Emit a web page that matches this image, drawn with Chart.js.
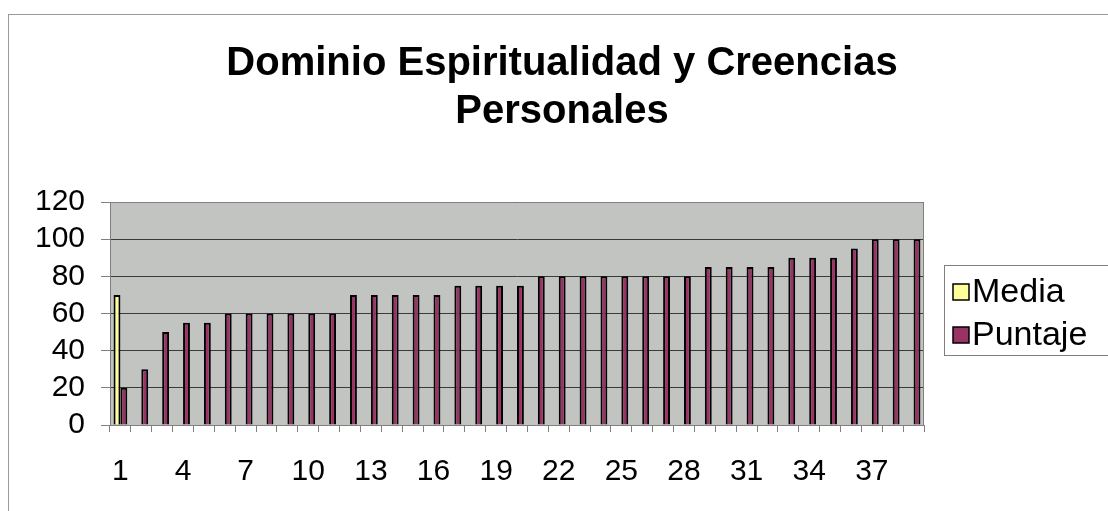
<!DOCTYPE html>
<html lang="es">
<head>
    <meta charset="UTF-8">
    <title>Dominio Espiritualidad y Creencias Personales</title>
    <script src="https://cdn.jsdelivr.net/npm/chart.js"></script>
    <style>
        body { margin: 0; background: #fff; }
    </style>
</head>
<body>
<canvas id="chart" width="1108" height="511"></canvas>

<script>
    const titleLines = ['Dominio Espiritualidad y Creencias', 'Personales'];

    const categories = ['1', '2', '3', '4', '5', '6', '7', '8', '9', '10',
        '11', '12', '13', '14', '15', '16', '17', '18', '19', '20',
        '21', '22', '23', '24', '25', '26', '27', '28', '29', '30',
        '31', '32', '33', '34', '35', '36', '37', '38', '39'];

    // only the first category carries the mean
    const media = [70, null, null, null, null, null, null, null, null, null,
        null, null, null, null, null, null, null, null, null, null,
        null, null, null, null, null, null, null, null, null, null,
        null, null, null, null, null, null, null, null, null];

    const puntaje = [20, 30, 50, 55, 55, 60, 60, 60, 60, 60,
        60, 70, 70, 70, 70, 70, 75, 75, 75, 75,
        80, 80, 80, 80, 80, 80, 80, 80, 85, 85,
        85, 85, 90, 90, 90, 95, 100, 100, 100];

    const shownLabels = ['1', '4', '7', '10', '13', '16', '19', '22', '25', '28', '31', '34', '37'];

    const FONT = "'Liberation Sans', Arial, sans-serif";

    // grey plot area, outer frame, title and boxed legend
    const frame = {
        id: 'frame',
        beforeDraw(chart) {
            const {ctx, chartArea: a} = chart;
            ctx.save();
            ctx.fillStyle = '#c2c4c2';
            ctx.fillRect(a.left, a.top, a.right - a.left, a.bottom - a.top);
            ctx.restore();
        },
        beforeDatasetsDraw(chart) {
            const {ctx, chartArea: a} = chart;
            ctx.save();
            ctx.strokeStyle = '#808080';
            ctx.lineWidth = 1;
            ctx.beginPath();
            ctx.moveTo(a.left, a.top + 0.5);
            ctx.lineTo(a.right - 0.5, a.top + 0.5);
            ctx.lineTo(a.right - 0.5, a.bottom);
            ctx.stroke();
            ctx.restore();
        },
        afterDraw(chart) {
            const ctx = chart.ctx;
            ctx.save();
            ctx.strokeStyle = '#9a9a9a';
            ctx.lineWidth = 1;
            ctx.strokeRect(8.5, 14.5, 1200, 600);

            ctx.fillStyle = '#000';
            ctx.textAlign = 'center';
            ctx.textBaseline = 'middle';
            ctx.font = 'bold 40px ' + FONT;
            ctx.fillText(titleLines[0], 562, 64);
            ctx.fillText(titleLines[1], 562, 112);

            ctx.strokeStyle = '#808080';
            ctx.strokeRect(944.5, 265.5, 200, 90);
            ctx.font = '34px ' + FONT;
            ctx.textAlign = 'left';
            chart.data.datasets.forEach((ds, i) => {
                const y = 292 + i * 43;
                ctx.fillStyle = ds.backgroundColor;
                ctx.fillRect(953, y - 8, 16, 16);
                ctx.strokeStyle = '#000';
                ctx.lineWidth = 1.5;
                ctx.strokeRect(953, y - 8, 16, 16);
                ctx.fillStyle = '#000';
                ctx.fillText(ds.label, 972, y + 1);
            });
            ctx.restore();
        }
    };

    new Chart(document.getElementById('chart'), {
        type: 'bar',
        data: {
            labels: categories,
            datasets: [{
                label: 'Media',
                data: media,
                backgroundColor: '#ffff99',
                borderColor: '#000',
                borderWidth: 2
            }, {
                label: 'Puntaje',
                data: puntaje,
                backgroundColor: '#993366',
                borderColor: '#000',
                borderWidth: 2
            }]
        },
        options: {
            responsive: false,
            animation: false,
            categoryPercentage: 0.66,
            barPercentage: 1,
            layout: {padding: {top: 202, right: 184, bottom: 0, left: 0}},
            plugins: {
                legend: {display: false},
                title: {display: false},
                tooltip: {enabled: false}
            },
            scales: {
                x: {
                    offset: true,
                    grid: {drawOnChartArea: false, tickLength: 7, color: '#808080'},
                    border: {color: '#808080'},
                    ticks: {
                        autoSkip: false,
                        maxRotation: 0,
                        padding: 22,
                        color: '#000',
                        font: {family: FONT, size: 30},
                        callback: function (value, index) {
                            const lab = categories[index];
                            return shownLabels.includes(lab) ? lab : '';
                        }
                    },
                    afterFit: s => { s.height = 86; }
                },
                y: {
                    min: 0,
                    max: 120,
                    grid: {color: '#3a3a3a', tickColor: '#808080', tickLength: 9},
                    border: {color: '#808080'},
                    ticks: {
                        autoSkip: false,
                        stepSize: 20,
                        padding: 16,
                        color: '#000',
                        font: {family: FONT, size: 30}
                    },
                    afterFit: s => { s.width = 110; }
                }
            }
        },
        plugins: [frame]
    });
</script>
</body>
</html>
